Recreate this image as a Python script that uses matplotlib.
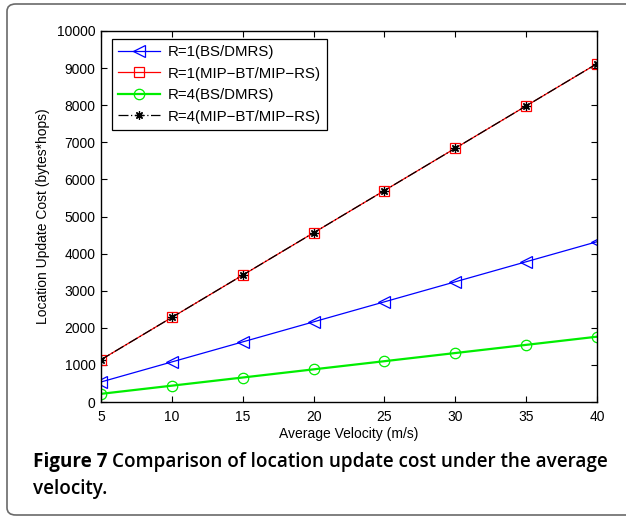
import matplotlib
matplotlib.use("Agg")
import matplotlib.pyplot as plt
from matplotlib.patches import FancyBboxPatch

# Average velocity (m/s)
velocity = [5, 10, 15, 20, 25, 30, 35, 40]

# Location update cost (bytes*hops)
r1_bs_dmrs = [540, 1080, 1620, 2160, 2700, 3240, 3780, 4320]
r1_mip = [1140, 2280, 3420, 4560, 5700, 6840, 7980, 9120]
r4_bs_dmrs = [220, 440, 660, 880, 1100, 1320, 1540, 1760]
r4_mip = [1140, 2280, 3420, 4560, 5700, 6840, 7980, 9120]

labels = ["R=1(BS/DMRS)", "R=1(MIP\u2212BT/MIP\u2212RS)",
          "R=4(BS/DMRS)", "R=4(MIP\u2212BT/MIP\u2212RS)"]

x_ticks = [5, 10, 15, 20, 25, 30, 35, 40]
y_ticks = list(range(0, 10001, 1000))

plt.rcParams["font.family"] = ["Liberation Sans", "DejaVu Sans"]

fig = plt.figure(figsize=(6.26, 5.21), dpi=100)

# rounded frame around the figure
frame = FancyBboxPatch((7 / 626, 6 / 521), 640 / 626, 511 / 521,
                       boxstyle="round,pad=0,rounding_size=0.014",
                       transform=fig.transFigure, fill=False,
                       edgecolor="#6a6a6a", linewidth=1.2, zorder=0)
fig.patches.append(frame)

ax = fig.add_axes([101 / 626, 119 / 521, 496 / 626, 371 / 521])

ax.plot(velocity, r1_bs_dmrs, color="#0000ff", marker="<", markersize=9,
        markerfacecolor="none", markeredgewidth=0.9, linewidth=0.9, label=labels[0])
ax.plot(velocity, r1_mip, color="#ff0000", marker="s", markersize=6.5,
        markerfacecolor="none", markeredgewidth=0.9, linewidth=0.9, label=labels[1])
ax.plot(velocity, r4_bs_dmrs, color="#00ee00", marker="o", markersize=7.5,
        markerfacecolor="none", markeredgewidth=0.9, linewidth=1.6, label=labels[2])
ax.plot(velocity, r4_mip, color="black", marker=(8, 2, 0), markersize=6,
        linestyle=(0, (8, 2, 1, 2)), markeredgewidth=0.9, linewidth=0.9,
        label=labels[3])

ax.set_xlim(5, 40)
ax.set_ylim(0, 10000)
ax.set_xticks(x_ticks)
ax.set_yticks(y_ticks)
ax.tick_params(direction="in", top=True, right=True, labelsize=10,
               length=4, width=0.8)
ax.tick_params(axis="x", pad=6)
ax.tick_params(axis="y", pad=4)
for s in ax.spines.values():
    s.set_linewidth(1.0)

ax.set_xlabel("Average Velocity (m/s)", fontsize=10, labelpad=2)
ax.set_ylabel("Location Update Cost (bytes*hops)", fontsize=10, labelpad=5)

leg = ax.legend(loc="upper left", fontsize=10.8, fancybox=False, framealpha=1,
                edgecolor="black", borderpad=0.4, labelspacing=0.5,
                handlelength=2.8, handletextpad=0.5, borderaxespad=0.0,
                bbox_to_anchor=(0.022, 0.978))
leg.get_frame().set_linewidth(0.9)

cap_family = ["Open Sans", "DejaVu Sans"]
cap_size = 13.6
y1 = 1 - 467 / 521
head = fig.text(33 / 626, y1, "Figure 7", fontsize=cap_size, fontweight="bold",
                family=cap_family, va="baseline")
renderer = fig.canvas.get_renderer()
bb = head.get_window_extent(renderer=renderer)
fig.text((bb.x1 + 5) / 626, y1,
         "Comparison of location update cost under the average",
         fontsize=cap_size, fontweight="semibold", family=cap_family,
         va="baseline")
fig.text(33 / 626, 1 - 494 / 521, "velocity.", fontsize=cap_size,
         fontweight="semibold", family=cap_family, va="baseline")

fig.savefig("out.png", dpi=100)
